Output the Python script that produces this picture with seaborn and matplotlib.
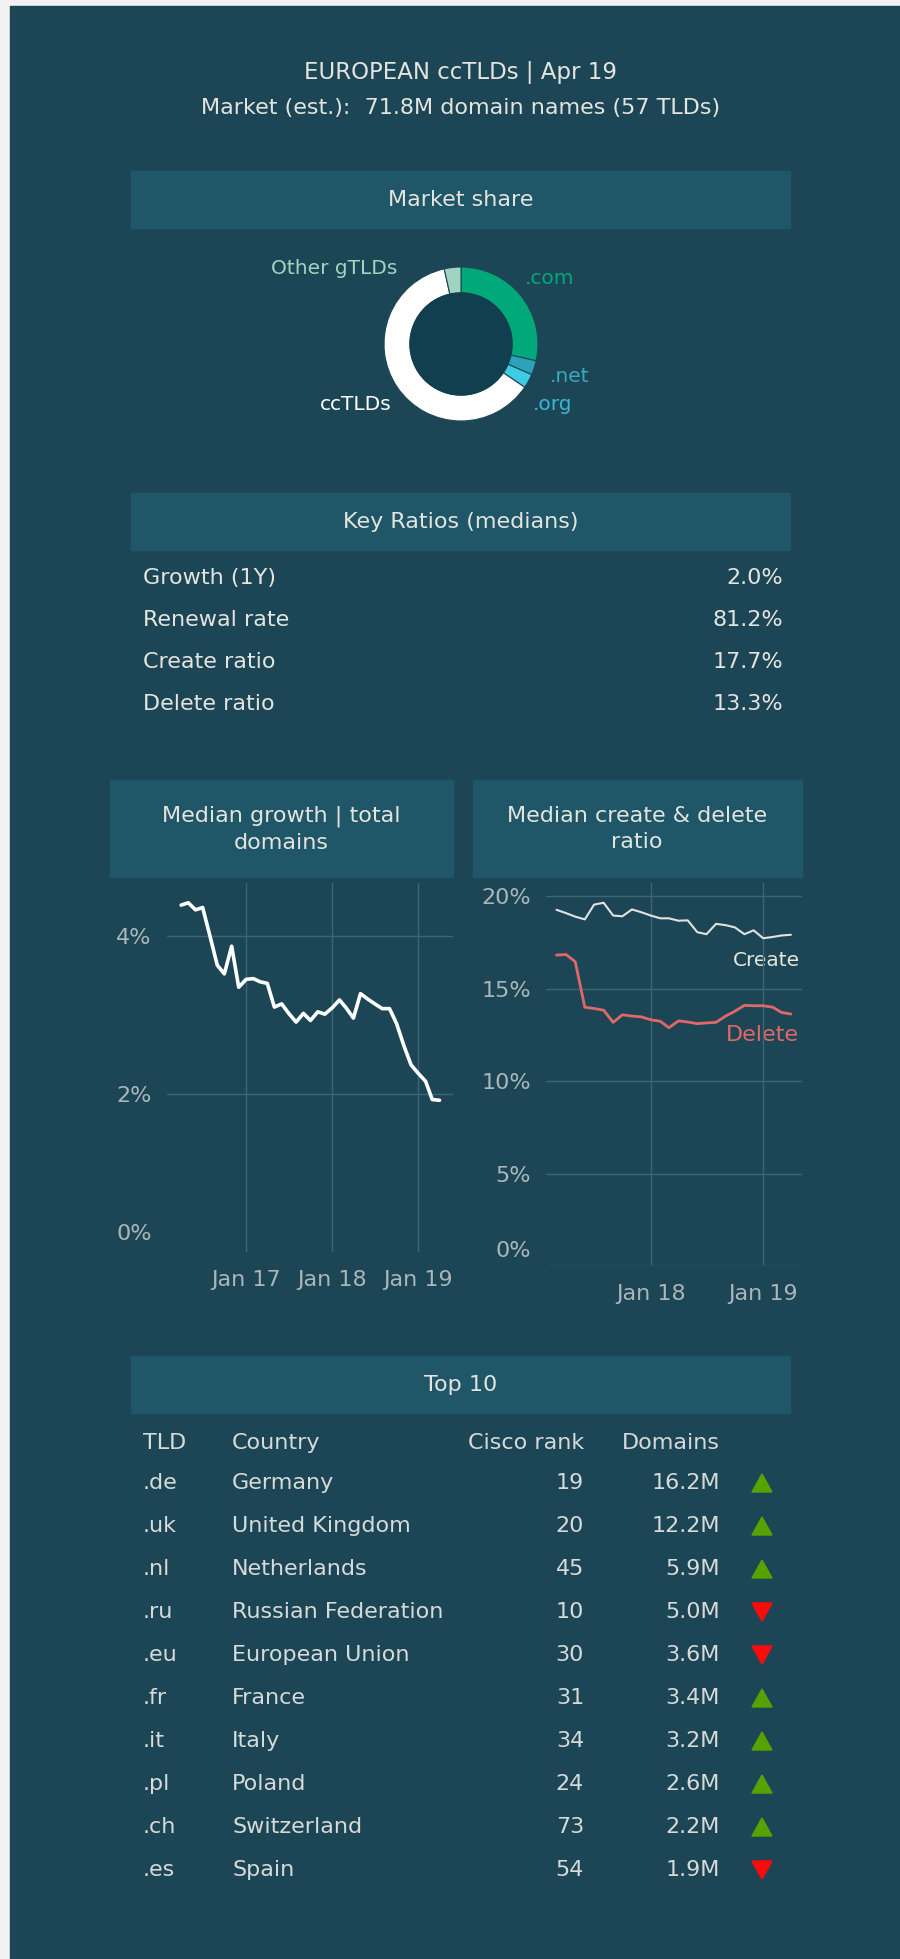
import numpy as np
import pandas as pd
import matplotlib
matplotlib.use("Agg")
import matplotlib.pyplot as plt
import matplotlib.dates as mdates
from matplotlib.patches import Rectangle, Circle, Polygon
from matplotlib.transforms import ScaledTranslation
import seaborn as sns

# ---------------- data ----------------
title = "EUROPEAN ccTLDs | Apr 19"
subtitle = "Market (est.):  71.8M domain names (57 TLDs)"

share_labels = [".com", ".net", ".org", "ccTLDs", "Other gTLDs"]
share_values = [28.5, 3.0, 3.0, 62.0, 3.5]

ratio_names = ["Growth (1Y)", "Renewal rate", "Create ratio", "Delete ratio"]
ratio_values = ["2.0%", "81.2%", "17.7%", "13.3%"]

growth_months = pd.date_range("2016-04-01", periods=37, freq="MS")
growth_values = [4.39, 4.42, 4.33, 4.36, 4.00, 3.63, 3.52, 3.87, 3.35, 3.45,
                 3.46, 3.42, 3.40, 3.10, 3.14, 3.02, 2.91, 3.02, 2.93, 3.04,
                 3.01, 3.09, 3.19, 3.09, 2.96, 3.27, 3.20, 3.14, 3.08, 3.08,
                 2.89, 2.61, 2.37, 2.26, 2.16, 1.93, 1.92]

ratio_months = pd.date_range("2017-03-01", periods=26, freq="MS")
create_values = [19.27, 19.09, 18.90, 18.75, 19.55, 19.65, 18.96, 18.92, 19.29,
                 19.14, 18.96, 18.81, 18.81, 18.68, 18.70, 18.06, 17.95, 18.51,
                 18.44, 18.32, 17.95, 18.16, 17.73, 17.80, 17.88, 17.92]
delete_values = [16.82, 16.85, 16.46, 14.00, 13.93, 13.84, 13.18, 13.59, 13.52,
                 13.48, 13.32, 13.24, 12.89, 13.26, 13.20, 13.11, 13.15, 13.18,
                 13.52, 13.78, 14.10, 14.08, 14.08, 14.00, 13.72, 13.63]

table_headers = ["TLD", "Country", "Cisco rank", "Domains"]
top_tld = [".de", ".uk", ".nl", ".ru", ".eu", ".fr", ".it", ".pl", ".ch", ".es"]
top_country = ["Germany", "United Kingdom", "Netherlands", "Russian Federation",
               "European Union", "France", "Italy", "Poland", "Switzerland", "Spain"]
top_rank = [19, 20, 45, 10, 30, 31, 34, 24, 73, 54]
top_domains = ["16.2M", "12.2M", "5.9M", "5.0M", "3.6M", "3.4M", "3.2M",
               "2.6M", "2.2M", "1.9M"]
top_trend = ["up", "up", "up", "down", "down", "up", "up", "up", "up", "down"]

# ---------------- style ----------------
sns.set_style("dark")
plt.rcParams["font.family"] = ["DejaVu Sans"]

BG = "#1c4656"
BAR = "#1f5668"
HOLE = "#123f50"
TXT = "#e4e4de"
TICK = "#aab6b8"
GRID = "#3e6574"
share_colors = ["#00a87a", "#2aa3b8", "#3ccde2", "#ffffff", "#9fd4c1"]
label_colors = ["#00a87a", "#3aa8be", "#38b8d2", "#ffffff", "#9fd4c1"]

W, H = 900, 1959
fig = plt.figure(figsize=(W / 100, H / 100), dpi=100, facecolor="#f2f2f2")

bg = fig.add_axes([0, 0, 1, 1])
bg.set_xlim(0, W)
bg.set_ylim(H, 0)
bg.axis("off")
bg.add_patch(Rectangle((10, 6), W - 10, H - 6, color=BG, zorder=0))


def pax(l, t, r, b):
    return fig.add_axes([l / W, 1 - b / H, (r - l) / W, (b - t) / H])


def txt(x, y, s, size=16, color=TXT, ha="left", va="center", **kw):
    bg.text(x, y, s, fontsize=size, color=color, ha=ha, va=va, **kw)


# title
txt(461, 73, title, size=16.5, ha="center")
txt(461, 108, subtitle, size=16, ha="center")

# section bars
for (l, t, w, h) in [(131, 171, 659, 57), (131, 493, 659, 57), (110, 780, 343, 97),
                     (473, 780, 329, 97), (131, 1356, 659, 57)]:
    bg.add_patch(Rectangle((l, t), w, h, color=BAR, zorder=1))
txt(461, 200, "Market share", size=16, ha="center")
txt(461, 522, "Key Ratios (medians)", size=16, ha="center")
txt(281, 829, "Median growth | total\ndomains", size=16, ha="center", linespacing=1.4)
txt(637, 829, "Median create & delete\nratio", size=16, ha="center", linespacing=1.4)
txt(461, 1385, "Top 10", size=16, ha="center")

# ---------------- donut ----------------
R = 77
axd = pax(461 - R, 344 - R, 461 + R, 344 + R)
axd.pie(share_values, colors=share_colors, startangle=90, counterclock=False,
        radius=1, wedgeprops=dict(width=26 / 77, edgecolor=BG, linewidth=0.8))
axd.add_patch(Circle((0, 0), 51 / 77, color=HOLE, zorder=5))
axd.set_xlim(-1, 1)
axd.set_ylim(-1, 1)
axd.set_aspect("equal")
axd.axis("off")

txt(525, 278, share_labels[0], size=14.5, color=label_colors[0])
txt(550, 376, share_labels[1], size=14.5, color=label_colors[1])
txt(533, 404, share_labels[2], size=14.5, color=label_colors[2])
txt(392, 405, share_labels[3], size=14.5, color=label_colors[3], ha="right")
txt(397, 269, share_labels[4], size=14.5, color=label_colors[4], ha="right")

# ---------------- key ratios ----------------
for i, (n, v) in enumerate(zip(ratio_names, ratio_values)):
    y = 578 + i * 42
    txt(143, y, n, size=16)
    txt(783, y, v, size=16, ha="right")


def style_axes(ax, pad_x, pad_y):
    ax.set_facecolor("none")
    for s in ax.spines.values():
        s.set_visible(False)
    ax.tick_params(axis="both", length=0, labelsize=16, labelcolor=TICK)
    ax.tick_params(axis="x", pad=pad_x)
    ax.tick_params(axis="y", pad=pad_y)
    ax.grid(True, color=GRID, linewidth=1)
    ax.set_xlabel("")
    ax.set_ylabel("")
    ax.xaxis.set_major_formatter(mdates.DateFormatter("%b %y"))


def lift_bottom_label(ax, px):
    lab = ax.get_yticklabels()[0]
    lab.set_va("bottom")
    lab.set_transform(lab.get_transform() + ScaledTranslation(0, px / 100, fig.dpi_scale_trans))


# ---------------- growth chart ----------------
ax1 = pax(167, 883, 453, 1252)
gdf = pd.DataFrame({"month": growth_months, "growth": growth_values})
sns.lineplot(data=gdf, x="month", y="growth", ax=ax1, color="white", linewidth=2.6)
ax1.set_ylim(0, 4.67)
ax1.set_xlim(pd.Timestamp("2016-02-01"), pd.Timestamp("2019-05-28"))
ax1.set_yticks([0, 2, 4])
ax1.set_yticklabels(["0%", "2%", "4%"])
ax1.set_xticks([pd.Timestamp("2017-01-01"), pd.Timestamp("2018-01-01"), pd.Timestamp("2019-01-01")])
style_axes(ax1, 13, 11)
ax1.get_ygridlines()[0].set_visible(False)
lift_bottom_label(ax1, 8)

# ---------------- create/delete chart ----------------
ax2 = pax(546, 883, 802, 1266)
rdf = pd.DataFrame({"month": ratio_months, "Create": create_values, "Delete": delete_values})
sns.lineplot(data=rdf, x="month", y="Create", ax=ax2, color="#e2e2de", linewidth=1.5)
sns.lineplot(data=rdf, x="month", y="Delete", ax=ax2, color="#e06868", linewidth=2.0)
ax2.set_ylim(0, 20.72)
ax2.set_xlim(pd.Timestamp("2017-01-26"), pd.Timestamp("2019-05-07"))
ax2.set_yticks([0, 5, 10, 15, 20])
ax2.set_yticklabels(["0%", "5%", "10%", "15%", "20%"])
ax2.set_xticks([pd.Timestamp("2018-01-01"), pd.Timestamp("2019-01-01")])
style_axes(ax2, 13, 11)
lift_bottom_label(ax2, 5)
txt(800, 961, "Create", size=14.5, color="#e6e6d8", ha="right")
txt(799, 1035, "Delete", size=16, color="#e06868", ha="right")

# ---------------- top 10 table ----------------
TBL = "#d6dad8"
txt(143, 1443, table_headers[0], size=16, color=TBL)
txt(232, 1443, table_headers[1], size=16, color=TBL)
txt(584, 1443, table_headers[2], size=16, color=TBL, ha="right")
txt(720, 1443, table_headers[3], size=16, color=TBL, ha="right")
for i in range(len(top_tld)):
    y = 1483 + i * 43.0
    txt(143, y, top_tld[i], size=16, color=TBL)
    txt(232, y, top_country[i], size=16, color=TBL)
    txt(584, y, str(top_rank[i]), size=16, color=TBL, ha="right")
    txt(720, y, top_domains[i], size=16, color=TBL, ha="right")
    cx = 762
    if top_trend[i] == "up":
        pts = [(cx - 10, y + 9), (cx + 10, y + 9), (cx, y - 9)]
        col = "#56a300"
    else:
        pts = [(cx - 10, y - 9), (cx + 10, y - 9), (cx, y + 9)]
        col = "#ff0a0a"
    bg.add_patch(Polygon(pts, closed=True, color=col, zorder=3))

fig.savefig("out.png", dpi=100, facecolor=fig.get_facecolor())
